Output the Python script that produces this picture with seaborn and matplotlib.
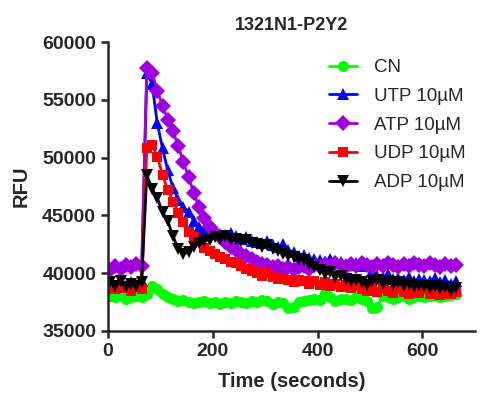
import numpy as np
import pandas as pd
import matplotlib
matplotlib.use("Agg")
import matplotlib.pyplot as plt
import seaborn as sns

# sampling times (s)
TIME_S = [4 + 10 * k for k in range(67)]

CN = [38000, 37900, 38100, 37800, 37900, 38000, 37900, 38200, 38900, 38600,
      38200, 37900, 37800, 37600, 37700, 37500, 37400, 37500, 37600, 37400,
      37500, 37300, 37500, 37400, 37600, 37500, 37400, 37600, 37500, 37700,
      37600, 37300, 37500, 37400, 37000, 37100, 37500, 37600, 37700, 37800,
      37700, 38300, 37900, 37600, 37800, 37800, 37700, 37900, 37800, 37600,
      37000, 37100, 38000, 37900, 37800, 37900, 38000, 37800, 37900, 38000,
      37900, 38000, 38100, 37900, 38000, 38100, 38200]

UTP = [39100, 38800, 39300, 38900, 39200, 39000, 39300, 57300, 56400, 53000,
       50800, 48900, 47400, 46300, 45700, 45300, 44500, 44000, 43800, 43500,
       43600, 43400, 43300, 43500, 43200, 43000, 43100, 42800, 42700, 42600,
       42800, 42400, 42300, 42500, 42000, 41800, 41500, 41600, 41300, 41200,
       41100, 41000, 41200, 40900, 41000, 40800, 40700, 40900, 40600, 40700,
       40200, 39800, 39700, 39900, 39500, 39600, 39400, 39700, 39300, 39500,
       39400, 39300, 39600, 39200, 39400, 39100, 39300]

ATP = [40300, 40600, 40400, 40700, 40500, 40800, 40600, 57800, 57300, 55800,
       54500, 53300, 52300, 51000, 49600, 48300, 46900, 45700, 44800, 44000,
       43500, 43100, 42700, 42300, 42000, 41700, 41500, 41200, 41000, 40800,
       40700, 40500, 40600, 40400, 40500, 40300, 40500, 40600, 40400, 40700,
       40500, 40800, 40600, 40900, 40700, 40500, 40800, 40600, 40900, 40700,
       40500, 40800, 40600, 40900, 40700, 40500, 40800, 40600, 40900, 40700,
       40600, 40900, 40700, 40500, 40800, 40600, 40700]

UDP = [38800, 38600, 38900, 38700, 38500, 38800, 38600, 50800, 51100, 50100,
       48500, 47200, 46200, 45200, 44400, 43600, 43100, 42800, 42200, 41900,
       41700, 41400, 41200, 41000, 40900, 40600, 40400, 40200, 40000, 39800,
       40000, 39700, 39500, 39600, 39400, 39200, 39400, 39300, 39100, 39300,
       39000, 39200, 38900, 39100, 38800, 39000, 38700, 38900, 38600, 38500,
       38800, 38400, 38700, 38500, 38300, 38600, 38400, 38200, 38500, 38300,
       38600, 38200, 38400, 38100, 38300, 38200, 38400]

ADP = [39200, 38900, 39300, 38800, 39100, 38900, 39200, 48500, 47300, 46500,
       45300, 44500, 43200, 42100, 41700, 41800, 42300, 42600, 42800, 42900,
       43100, 43000, 43200, 42900, 43000, 42800, 42900, 42600, 42500, 42300,
       42400, 42100, 41900, 41700, 41500, 41400, 41200, 41100, 40800, 40500,
       40300, 39900, 40100, 39700, 39800, 39500, 39300, 39400, 39200, 39000,
       39300, 39400, 39100, 39300, 39000, 39200, 38900, 39100, 38800, 39000,
       38900, 38700, 38900, 38600, 38800, 38500, 38700]

LABELS = ["CN", "UTP 10µM", "ATP 10µM", "UDP 10µM", "ADP 10µM"]
SERIES = [CN, UTP, ATP, UDP, ADP]
COLORS = ["#00ff00", "#0000ff", "#a000dd", "#ff0000", "#000000"]
MARKERS = ["o", "^", "D", "s", "v"]
SIZES = [8, 8.5, 8, 7.5, 8.5]

sns.set_style("ticks")
plt.rcParams["font.family"] = ["Liberation Sans", "DejaVu Sans"]

fig = plt.figure(figsize=(4.91, 3.94), dpi=100)
ax = fig.add_axes([0.22, 0.16, 0.747, 0.733])

for vals, lab, col, mk, ms in zip(SERIES, LABELS, COLORS, MARKERS, SIZES):
    sns.lineplot(x=TIME_S, y=vals, ax=ax, color=col, marker=mk, markersize=ms,
                 markeredgewidth=0, linewidth=2.0, label=lab)

ax.set_xlim(0, 700)
ax.set_ylim(35000, 60000)
ax.set_xticks([0, 200, 400, 600])
ax.set_yticks([35000, 40000, 45000, 50000, 55000, 60000])
sns.despine(ax=ax)
for s in ["left", "bottom"]:
    ax.spines[s].set_linewidth(1.8)
ax.tick_params(width=1.8, length=5, labelsize=14, direction="out")
for t in ax.get_xticklabels() + ax.get_yticklabels():
    t.set_fontweight("bold")

ax.set_xlabel("Time (seconds)", fontsize=14.5, fontweight="bold", labelpad=9)
ax.set_ylabel("RFU", fontsize=14.5, fontweight="bold", labelpad=8)
ax.set_title("1321N1-P2Y2", fontsize=13, fontweight="bold", pad=9)

ax.legend(loc="upper right", bbox_to_anchor=(1.02, 1.0), frameon=False,
          fontsize=13.5, handlelength=1.5, labelspacing=0.62, handletextpad=0.9)

fig.savefig("out.png", dpi=100)
